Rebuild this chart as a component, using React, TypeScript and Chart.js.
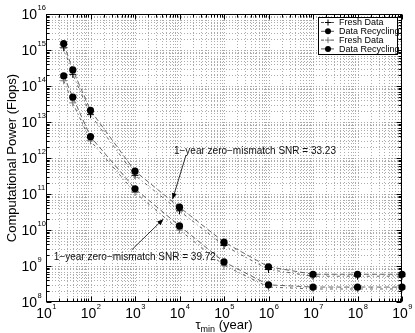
import React, { useEffect, useRef } from 'react';
import { Chart, registerables } from 'chart.js';

Chart.register(...registerables);

// ---------- data ----------
const tauMin = [25, 40, 100, 1e3, 1e4, 1e5, 1e6, 1e7, 1e8, 1e9];
const freshA = [1.15e15, 2.1e14, 1.6e13, 3.3e11, 3.4e10, 3.7e9, 8.0e8, 5.2e8, 5.2e8, 5.2e8];
const recycleA = [1.5e15, 2.8e14, 2.1e13, 4.3e11, 4.3e10, 4.6e9, 9.5e8, 5.9e8, 5.9e8, 5.9e8];
const freshB = [1.4e14, 3.4e13, 3.0e12, 1.1e11, 1.0e10, 1.05e9, 2.6e8, 2.3e8, 2.3e8, 2.3e8];
const recycleB = [1.9e14, 4.9e13, 3.9e12, 1.4e11, 1.3e10, 1.3e9, 3.0e8, 2.6e8, 2.6e8, 2.6e8];
const seriesLabels = ['Fresh Data', 'Data Recycling', 'Fresh Data', 'Data Recycling'];
const xExponents = [1, 2, 3, 4, 5, 6, 7, 8, 9];
const yExponents = [8, 9, 10, 11, 12, 13, 14, 15, 16];
const yTitle = 'Computational Power (Flops)';
const xTitleMain = 'τ';
const xTitleSub = 'min';
const xTitleRest = ' (year)';
const noteA = '1−year zero−mismatch SNR = 33.23';
const noteB = '1−year zero−mismatch SNR = 39.72';

const FONT = "'Liberation Sans', Arial, Helvetica, sans-serif";

const pts = (ys: number[]) => tauMin.map((x, i) => ({ x, y: ys[i] }));

const chromePlugin = {
  id: 'chrome',
  beforeDatasetsDraw(chart: any) {
    const { ctx, chartArea: a, scales } = chart;
    const xs = scales.x;
    const ys = scales.y;
    ctx.save();
    ctx.strokeStyle = '#acacac';
    ctx.lineWidth = 1;
    ctx.setLineDash([1, 2]);
    for (let i = 0; i < xExponents.length - 1; i++) {
      for (let m = 1; m <= 9; m++) {
        const v = m * Math.pow(10, xExponents[i]);
        const px = Math.round(xs.getPixelForValue(v)) + 0.5;
        if (px <= a.left + 1 || px >= a.right - 1) continue;
        ctx.beginPath();
        ctx.moveTo(px, a.top);
        ctx.lineTo(px, a.bottom);
        ctx.stroke();
      }
    }
    for (let i = 0; i < yExponents.length - 1; i++) {
      for (let m = 1; m <= 9; m++) {
        const v = m * Math.pow(10, yExponents[i]);
        const py = Math.round(ys.getPixelForValue(v)) + 0.5;
        if (py <= a.top + 1 || py >= a.bottom - 1) continue;
        ctx.beginPath();
        ctx.moveTo(a.left, py);
        ctx.lineTo(a.right, py);
        ctx.stroke();
      }
    }
    ctx.restore();
  },
  afterDatasetsDraw(chart: any) {
    const { ctx, chartArea: a, scales } = chart;
    const xs = scales.x;
    const ys = scales.y;
    const L = Math.round(a.left) + 0.5;
    const R = Math.round(a.right) - 0.5;
    const T = Math.round(a.top) + 0.5;
    const B = Math.round(a.bottom) - 0.5;
    ctx.save();
    ctx.setLineDash([]);
    ctx.strokeStyle = '#000';
    ctx.lineWidth = 1;
    // ticks (inward, all four sides)
    ctx.beginPath();
    for (let i = 0; i < xExponents.length; i++) {
      for (let m = 1; m <= 9; m++) {
        if (i === xExponents.length - 1 && m > 1) break;
        const v = m * Math.pow(10, xExponents[i]);
        const px = Math.round(xs.getPixelForValue(v)) + 0.5;
        const len = m === 1 ? 5 : 3;
        ctx.moveTo(px, B);
        ctx.lineTo(px, B - len);
        ctx.moveTo(px, T);
        ctx.lineTo(px, T + len);
      }
    }
    for (let i = 0; i < yExponents.length; i++) {
      for (let m = 1; m <= 9; m++) {
        if (i === yExponents.length - 1 && m > 1) break;
        const v = m * Math.pow(10, yExponents[i]);
        const py = Math.round(ys.getPixelForValue(v)) + 0.5;
        const len = m === 1 ? 5 : 3;
        ctx.moveTo(L, py);
        ctx.lineTo(L + len, py);
        ctx.moveTo(R, py);
        ctx.lineTo(R - len, py);
      }
    }
    ctx.stroke();
    // box
    ctx.strokeRect(L, T, R - L, B - T);

    // tick labels
    ctx.fillStyle = '#000';
    for (const k of yExponents) {
      const py = ys.getPixelForValue(Math.pow(10, k));
      ctx.font = `14px ${FONT}`;
      ctx.textAlign = 'right';
      ctx.textBaseline = 'middle';
      ctx.fillText('10', 37, py + 1);
      ctx.font = `7.5px ${FONT}`;
      ctx.textAlign = 'left';
      ctx.fillText(String(k), 37.5, py - 6);
    }
    for (const k of xExponents) {
      const px = xs.getPixelForValue(Math.pow(10, k));
      ctx.font = `14px ${FONT}`;
      ctx.textAlign = 'center';
      ctx.textBaseline = 'middle';
      const w = ctx.measureText('10').width;
      ctx.fillText('10', px - 2, 314);
      ctx.font = `7.5px ${FONT}`;
      ctx.textAlign = 'left';
      ctx.fillText(String(k), px - 2 + w / 2 + 0.5, 307);
    }

    // axis titles
    ctx.save();
    ctx.translate(12, (a.top + a.bottom) / 2);
    ctx.rotate(-Math.PI / 2);
    ctx.font = `13px ${FONT}`;
    ctx.textAlign = 'center';
    ctx.textBaseline = 'middle';
    ctx.fillText(yTitle, 0, 0);
    ctx.restore();

    ctx.textAlign = 'left';
    ctx.textBaseline = 'alphabetic';
    ctx.font = `13px ${FONT}`;
    const w1 = ctx.measureText(xTitleMain).width;
    const w3 = ctx.measureText(xTitleRest).width;
    ctx.font = `9px ${FONT}`;
    const w2 = ctx.measureText(xTitleSub).width;
    const total = w1 + w2 + w3;
    let tx = (a.left + a.right) / 2 - total / 2;
    const base = 329;
    ctx.font = `13px ${FONT}`;
    ctx.fillText(xTitleMain, tx, base);
    tx += w1;
    ctx.font = `9px ${FONT}`;
    ctx.fillText(xTitleSub, tx, base + 3);
    tx += w2;
    ctx.font = `13px ${FONT}`;
    ctx.fillText(xTitleRest, tx, base);

    // annotations
    const arrow = (x1: number, y1: number, x2: number, y2: number) => {
      const p1x = xs.getPixelForValue(x1), p1y = ys.getPixelForValue(y1);
      const p2x = xs.getPixelForValue(x2), p2y = ys.getPixelForValue(y2);
      ctx.beginPath();
      ctx.moveTo(p1x, p1y);
      ctx.lineTo(p2x, p2y);
      ctx.stroke();
      const ang = Math.atan2(p2y - p1y, p2x - p1x);
      const hl = 6, hw = 2.5;
      ctx.beginPath();
      ctx.moveTo(p2x, p2y);
      ctx.lineTo(p2x - hl * Math.cos(ang) + hw * Math.sin(ang), p2y - hl * Math.sin(ang) - hw * Math.cos(ang));
      ctx.lineTo(p2x - hl * Math.cos(ang) - hw * Math.sin(ang), p2y - hl * Math.sin(ang) + hw * Math.cos(ang));
      ctx.closePath();
      ctx.fill();
    };
    ctx.strokeStyle = '#000';
    ctx.fillStyle = '#000';
    ctx.lineWidth = 0.8;
    arrow(1.4e4, 1.2e12, 7.0e3, 7.2e10);
    arrow(843, 2.8e9, 4.3e3, 2.0e10);
    ctx.font = `10px ${FONT}`;
    ctx.textAlign = 'left';
    ctx.textBaseline = 'middle';
    ctx.fillStyle = '#111';
    ctx.fillText(noteA, xs.getPixelForValue(7.5e3), ys.getPixelForValue(1.55e12));
    ctx.fillText(noteB, xs.getPixelForValue(15), ys.getPixelForValue(1.8e9));

    // legend
    const lx = 318.5, ly = 17.5, lw = 79, lh = 37;
    ctx.fillStyle = '#fff';
    ctx.fillRect(lx, ly, lw, lh);
    ctx.strokeStyle = '#000';
    ctx.lineWidth = 1;
    ctx.strokeRect(lx, ly, lw, lh);
    chart.data.datasets.forEach((ds: any, i: number) => {
      const ry = 22.5 + i * 8.8;
      ctx.strokeStyle = ds.borderColor;
      ctx.lineWidth = 1;
      ctx.setLineDash(ds.borderDash || []);
      ctx.beginPath();
      ctx.moveTo(321, ry);
      ctx.lineTo(335, ry);
      ctx.stroke();
      ctx.setLineDash([]);
      if (ds.pointStyle === 'circle') {
        ctx.fillStyle = ds.pointBackgroundColor;
        ctx.beginPath();
        ctx.arc(328, ry, 3, 0, Math.PI * 2);
        ctx.fill();
      } else {
        ctx.strokeStyle = ds.pointBorderColor;
        ctx.beginPath();
        ctx.moveTo(325, ry);
        ctx.lineTo(331, ry);
        ctx.moveTo(328, ry - 3);
        ctx.lineTo(328, ry + 3);
        ctx.stroke();
      }
      ctx.fillStyle = '#000';
      ctx.font = `9px ${FONT}`;
      ctx.textAlign = 'left';
      ctx.textBaseline = 'middle';
      ctx.fillText(ds.label, 339, ry + 0.5);
    });
    ctx.restore();
  },
};

const makeDataset = (label: string, ys: number[], style: 'cross' | 'circle', color: string) => ({
  label,
  data: pts(ys),
  borderColor: '#555',
  borderWidth: 0.9,
  borderDash: style === 'circle' ? [5, 3] : [3, 3, 1, 3],
  pointStyle: style,
  pointRadius: style === 'circle' ? 3.6 : 3.5,
  pointBorderColor: color,
  pointBackgroundColor: color,
  pointBorderWidth: style === 'circle' ? 0 : 1,
  fill: false,
  tension: 0,
  clip: false,
  order: style === 'circle' ? 1 : 2,
});

export default function App() {
  const ref = useRef<HTMLCanvasElement | null>(null);
  useEffect(() => {
    if (!ref.current) return;
    const chart = new Chart(ref.current, {
      type: 'line',
      data: {
        datasets: [
          makeDataset(seriesLabels[0], freshA, 'cross', '#000'),
          makeDataset(seriesLabels[1], recycleA, 'circle', '#000'),
          makeDataset(seriesLabels[2], freshB, 'cross', '#777'),
          makeDataset(seriesLabels[3], recycleB, 'circle', '#000'),
        ] as any,
      },
      options: {
        animation: false,
        responsive: false,
        maintainAspectRatio: false,
        devicePixelRatio: 1,
        layout: { padding: { left: 46, right: 13, top: 14, bottom: 31 } },
        scales: {
          x: { type: 'logarithmic', min: 10, max: 1e9, display: false },
          y: { type: 'logarithmic', min: 1e8, max: 1e16, display: false },
        },
        plugins: {
          legend: { display: false },
          tooltip: { enabled: false },
        },
      } as any,
      plugins: [chromePlugin],
    });
    return () => chart.destroy();
  }, []);
  return (
    <div style={{ position: 'absolute', left: 0, top: 0, width: 415, height: 333, background: '#fff' }}>
      <canvas ref={ref} width={415} height={333} style={{ display: 'block' }} />
    </div>
  );
}
